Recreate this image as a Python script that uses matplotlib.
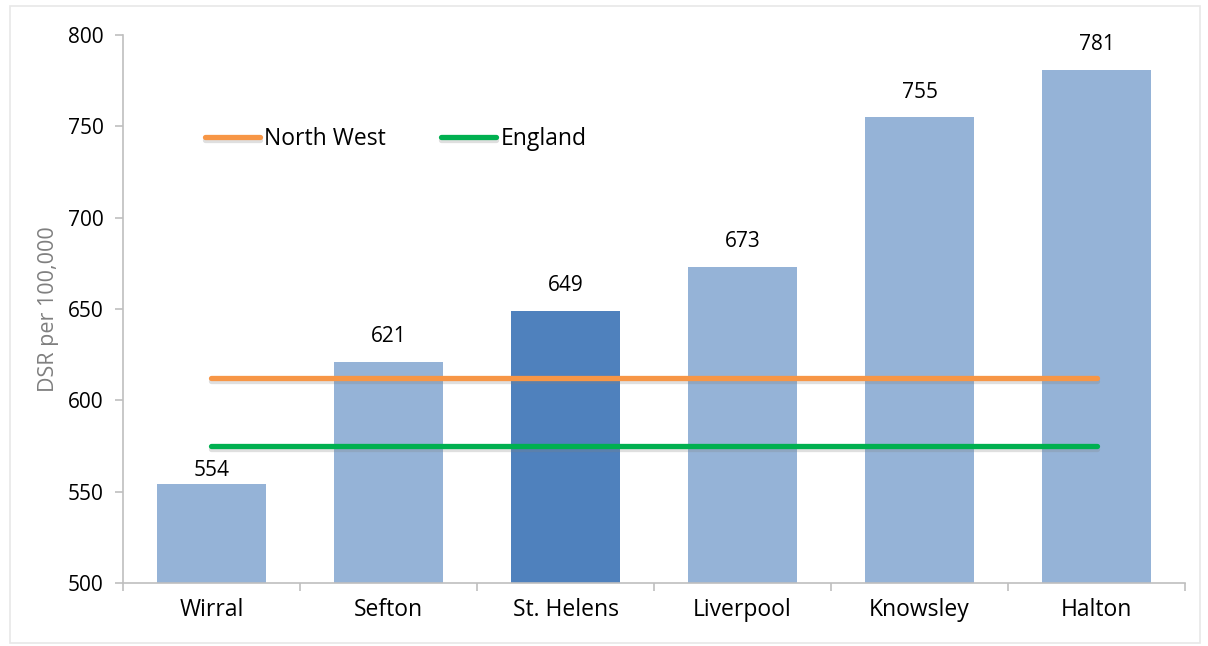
import numpy as np
import matplotlib.pyplot as plt
import matplotlib.patheffects as pe
from matplotlib.patches import Rectangle

areas = ["Wirral", "Sefton", "St. Helens", "Liverpool", "Knowsley", "Halton"]
dsr = [554, 621, 649, 673, 755, 781]
north_west = [612, 612, 612, 612, 612, 612]
england = [575, 575, 575, 575, 575, 575]
highlight = "St. Helens"

plt.rcParams['font.family'] = ['Open Sans', 'DejaVu Sans']

fig = plt.figure(figsize=(12.08, 6.46), dpi=100)
fig.patches.append(Rectangle((0.008, 0.005), 0.985, 0.985, transform=fig.transFigure,
                             fill=False, edgecolor='#e8e8e8', linewidth=1.2))
ax = fig.add_axes([0.1018, 0.0975, 0.8792, 0.8483])

x = np.arange(len(areas))
colors = ['#4f81bd' if a == highlight else '#95b3d7' for a in areas]
bars = ax.bar(x, dsr, width=0.62, color=colors, zorder=2)
for xi, v, e in zip(x, dsr, england):
    # label sits tighter when the bar is under the England line
    off = 2 if v < e else 8
    ax.text(xi, v + off, str(v), ha='center', va='bottom', fontsize=15, color='black')

shadow = [pe.SimpleLineShadow(offset=(0, -2), shadow_color='gray', alpha=0.25), pe.Normal()]
ax.plot(x, north_west, color='#f79646', lw=3.8, solid_capstyle='round', zorder=3,
        label='North West', path_effects=shadow)
ax.plot(x, england, color='#00b050', lw=3.8, solid_capstyle='round', zorder=3,
        label='England', path_effects=shadow)

ax.set_xlim(-0.5, len(areas) - 0.5)
ax.set_ylim(500, 800)
ax.set_yticks(range(500, 801, 50))
ax.set_xticks(x)
ax.set_xticklabels(areas)
ax.set_xticks(np.arange(-0.5, len(areas), 1), minor=True)
ax.tick_params(axis='x', which='major', length=0, pad=11, labelsize=16.5)
ax.tick_params(axis='x', which='minor', length=6, color='#bfbfbf', width=1.2)
ax.tick_params(axis='y', length=6, color='#bfbfbf', width=1.2, pad=8, labelsize=15)

for s in ['top', 'right']:
    ax.spines[s].set_visible(False)
for s in ['left', 'bottom']:
    ax.spines[s].set_color('#bfbfbf')
    ax.spines[s].set_linewidth(1.2)

ax.set_ylabel('DSR per 100,000', fontsize=15.5, color='#7f7f7f', labelpad=6)

ax.legend(loc='center left', bbox_to_anchor=(0.077, 0.81), ncol=2, frameon=False,
          fontsize=16.5, handlelength=2.4, handletextpad=0.2, columnspacing=2.4,
          borderpad=0, borderaxespad=0)

fig.savefig('out.png', dpi=100)
